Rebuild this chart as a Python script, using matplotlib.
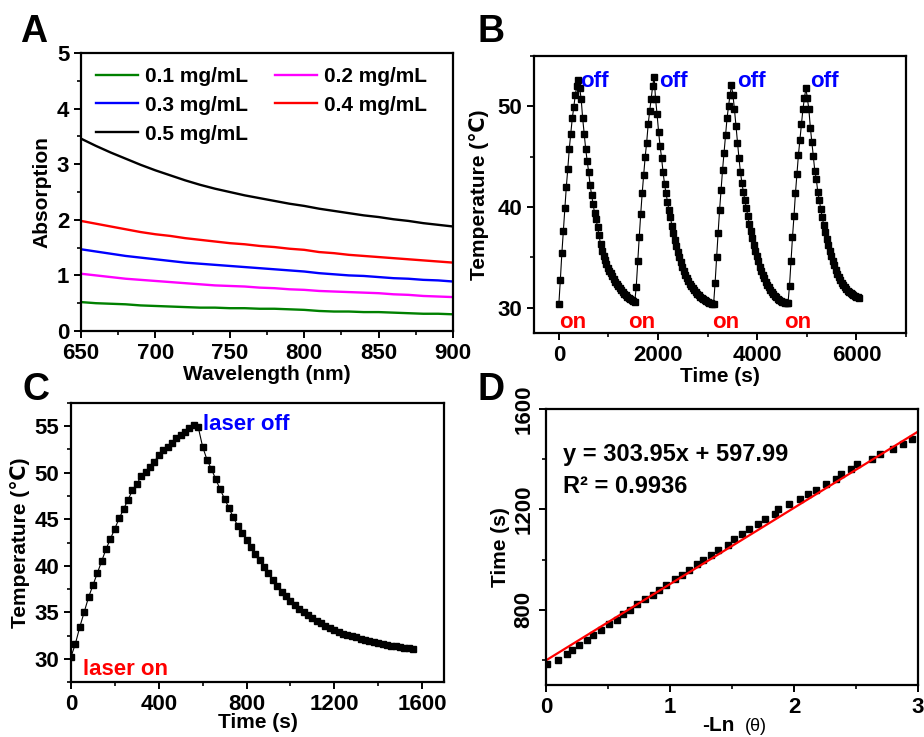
import numpy as np
import matplotlib
matplotlib.use("Agg")
import matplotlib.pyplot as plt
from matplotlib.ticker import MultipleLocator

plt.rcParams['font.family'] = ['Liberation Sans', 'DejaVu Sans']
plt.rcParams['font.weight'] = 'bold'
plt.rcParams['axes.labelweight'] = 'bold'
plt.rcParams['axes.linewidth'] = 1.6
plt.rcParams['xtick.major.width'] = 1.4
plt.rcParams['ytick.major.width'] = 1.4
plt.rcParams['xtick.minor.width'] = 1.2
plt.rcParams['ytick.minor.width'] = 1.2
plt.rcParams['xtick.major.size'] = 5
plt.rcParams['ytick.major.size'] = 5
plt.rcParams['xtick.minor.size'] = 3
plt.rcParams['ytick.minor.size'] = 3

# ---- panel A: absorption spectra (10 nm steps)
wavelength = [650, 660, 670, 680, 690, 700, 710, 720, 730, 740, 750, 760, 770,
              780, 790, 800, 810, 820, 830, 840, 850, 860, 870, 880, 890, 900]
abs_01 = [0.52, 0.50, 0.49, 0.48, 0.46, 0.45, 0.44, 0.43, 0.42, 0.42, 0.41, 0.41, 0.40,
          0.40, 0.39, 0.38, 0.36, 0.35, 0.35, 0.34, 0.34, 0.33, 0.32, 0.31, 0.31, 0.30]
abs_02 = [1.03, 1.00, 0.97, 0.94, 0.92, 0.90, 0.88, 0.86, 0.84, 0.82, 0.81, 0.80, 0.78,
          0.77, 0.75, 0.74, 0.72, 0.71, 0.70, 0.69, 0.68, 0.66, 0.65, 0.63, 0.62, 0.61]
abs_03 = [1.47, 1.43, 1.39, 1.35, 1.32, 1.29, 1.26, 1.23, 1.21, 1.19, 1.17, 1.15, 1.13,
          1.11, 1.09, 1.07, 1.04, 1.02, 1.00, 0.99, 0.97, 0.95, 0.94, 0.92, 0.91, 0.89]
abs_04 = [1.98, 1.93, 1.88, 1.83, 1.78, 1.74, 1.71, 1.67, 1.64, 1.61, 1.58, 1.56, 1.53,
          1.51, 1.48, 1.46, 1.42, 1.40, 1.37, 1.35, 1.33, 1.31, 1.29, 1.27, 1.25, 1.23]
abs_05 = [3.46, 3.33, 3.21, 3.10, 2.99, 2.89, 2.80, 2.71, 2.63, 2.56, 2.50, 2.44, 2.39,
          2.34, 2.29, 2.25, 2.20, 2.16, 2.12, 2.08, 2.05, 2.01, 1.98, 1.94, 1.91, 1.88]
conc_labels = ['0.1 mg/mL', '0.2 mg/mL', '0.3 mg/mL', '0.4 mg/mL', '0.5 mg/mL']
conc_colors = ['#008000', '#ff00ff', '#0000ff', '#ff0000', '#000000']

# ---- panel B: four on/off cycles, sampled every 30 s
b_step = 30
cycle1 = [30.4, 32.8, 35.4, 37.6, 39.9, 42.0, 43.8, 45.8, 47.3, 48.8, 49.9, 51.1, 52.0, 52.6,
          51.8, 50.7, 48.8, 47.3, 45.8, 44.6, 43.5, 42.2, 41.2, 40.3, 39.4, 38.8, 38.0, 37.2,
          36.3, 35.6, 35.1, 34.7, 34.3, 34.0, 33.7, 33.5, 33.2, 32.9, 32.6, 32.4, 32.2, 32.0,
          31.8, 31.6, 31.4, 31.3, 31.1, 31.0, 30.9, 30.8, 30.7, 30.6]
cycle2 = [32.1, 34.6, 37.0, 39.3, 41.4, 43.2, 45.0, 46.4, 48.2, 49.5, 50.7, 52.0, 52.9,
          50.7, 49.2, 47.5, 46.1, 44.9, 43.5, 42.3, 41.4, 40.5, 39.7, 39.0, 38.1, 37.4, 36.7,
          36.1, 35.5, 35.0, 34.5, 34.1, 33.7, 33.3, 33.0, 32.7, 32.4, 32.2, 32.0, 31.8, 31.6,
          31.4, 31.3, 31.1, 31.0, 30.9, 30.8, 30.7, 30.6, 30.5, 30.5, 30.4, 30.4]
cycle3 = [32.5, 35.0, 37.4, 39.7, 41.7, 43.7, 45.4, 47.2, 48.8, 50.0, 51.1, 52.1,
          51.1, 49.7, 48.1, 46.4, 44.9, 43.5, 42.4, 41.5, 40.7, 39.9, 39.1, 38.3, 37.6, 36.9,
          36.2, 35.6, 35.1, 34.6, 34.1, 33.7, 33.3, 33.0, 32.6, 32.3, 32.1, 31.8, 31.6, 31.4,
          31.2, 31.1, 30.9, 30.8, 30.7, 30.6, 30.6, 30.5, 30.5, 30.5]
cycle4 = [32.2, 34.6, 37.0, 39.1, 41.4, 43.3, 45.2, 46.7, 48.2, 49.7, 50.8, 51.8,
          50.8, 49.7, 47.9, 46.5, 45.1, 43.6, 42.8, 41.5, 40.7, 39.8, 39.0, 38.2, 37.5, 36.8,
          36.2, 35.6, 35.1, 34.6, 34.2, 33.8, 33.4, 33.1, 32.8, 32.5, 32.3, 32.1, 31.9, 31.7,
          31.6, 31.5, 31.4, 31.3, 31.2, 31.1, 31.1, 31.0]
off_times = [423, 2018, 3587, 5057]
on_times = [0, 1403, 3091, 4535]

# ---- panel C: single heating/cooling curve, sampled every 20 s
c_step = 20
c_temp = [30.2, 31.6, 33.4, 35.0, 36.6, 37.9, 39.2, 40.5, 41.8, 42.9, 44.0, 45.1, 46.1, 47.1,
          48.1, 48.8, 49.6, 50.1, 50.6, 51.2, 51.9, 52.4, 52.8, 53.2, 53.7, 54.1, 54.4, 54.8,
          55.1, 54.9,
          52.8, 51.4, 50.4, 49.3, 48.2, 47.2, 46.2, 45.2, 44.3, 43.5, 42.8, 42.0, 41.3, 40.6,
          39.9, 39.2, 38.5, 37.8, 37.2, 36.7, 36.2, 35.8, 35.4, 35.0, 34.7, 34.4, 34.1, 33.8,
          33.5, 33.3, 33.1, 32.9, 32.7, 32.6, 32.4, 32.3, 32.1, 32.0, 31.9, 31.8, 31.7, 31.6,
          31.5, 31.4, 31.35, 31.3, 31.2, 31.15, 31.1]

# ---- panel D: cooling time vs -ln(theta)
d_x = [0.01, 0.10, 0.17, 0.21, 0.27, 0.33, 0.38, 0.44, 0.51, 0.57, 0.62, 0.68, 0.73, 0.80,
       0.86, 0.91, 0.97, 1.04, 1.10, 1.15, 1.22, 1.27, 1.33, 1.39, 1.47, 1.52, 1.58, 1.64,
       1.71, 1.77, 1.85, 1.87, 1.96, 2.05, 2.11, 2.18, 2.26, 2.34, 2.38, 2.46, 2.51, 2.63,
       2.69, 2.80, 2.88, 2.95]
d_y = [584, 601, 623, 640, 660, 680, 698, 718, 742, 759, 782, 799, 821, 841,
       858, 880, 900, 923, 940, 960, 982, 999, 1019, 1039, 1059, 1081, 1101, 1122,
       1141, 1162, 1180, 1201, 1221, 1242, 1261, 1279, 1300, 1320, 1341, 1360, 1381, 1399,
       1422, 1442, 1461, 1481]
fit_slope = 303.95
fit_intercept = 597.99
fit_r2 = 0.9936

fig = plt.figure(figsize=(9.24, 7.37), dpi=100)
axA = fig.add_axes([0.0877, 0.5509, 0.4026, 0.3771])
axB = fig.add_axes([0.5780, 0.5482, 0.4026, 0.3758])
axC = fig.add_axes([0.0768, 0.0746, 0.4037, 0.3786])
axD = fig.add_axes([0.5909, 0.0706, 0.4026, 0.3745])

for ax in (axA, axB, axC, axD):
    ax.tick_params(which='both', direction='out', top=False, right=False, labelsize=16)

# A
series = [abs_01, abs_02, abs_03, abs_04, abs_05]
lines = []
for vals, lab, col in zip(series, conc_labels, conc_colors):
    ln, = axA.plot(wavelength, vals, color=col, lw=1.7, label=lab)
    lines.append(ln)
order = [0, 2, 4, 1, 3]
axA.legend([lines[i] for i in order], [conc_labels[i] for i in order], ncol=2,
           loc='upper left', bbox_to_anchor=(0.04, 0.95), frameon=False,
           fontsize=15, handlelength=2.0, handletextpad=0.35, columnspacing=1.3,
           labelspacing=0.47, borderpad=0, borderaxespad=0)
axA.set_xlim(650, 900)
axA.set_ylim(0, 5)
axA.xaxis.set_major_locator(MultipleLocator(50))
axA.xaxis.set_minor_locator(MultipleLocator(25))
axA.yaxis.set_major_locator(MultipleLocator(1))
axA.yaxis.set_minor_locator(MultipleLocator(0.5))
axA.set_xlabel('Wavelength (nm)', fontsize=15, labelpad=1)
axA.set_ylabel('Absorption', fontsize=15, labelpad=4)

# B
b_temp = np.array(cycle1 + cycle2 + cycle3 + cycle4)
b_time = np.arange(len(b_temp)) * b_step
axB.plot(b_time, b_temp, color='black', lw=0.8, marker='s', ms=4.5)
for t in off_times:
    axB.text(t, 51.9, 'off', color='#0000ff', fontsize=16, fontweight='bold', va='baseline')
for t in on_times:
    axB.text(t, 27.95, 'on', color='#ff0000', fontsize=16, fontweight='bold', va='baseline')
axB.set_xlim(-500, 7000)
axB.set_ylim(27.5, 55)
axB.xaxis.set_major_locator(MultipleLocator(2000))
axB.xaxis.set_minor_locator(MultipleLocator(1000))
axB.yaxis.set_major_locator(MultipleLocator(10))
axB.yaxis.set_minor_locator(MultipleLocator(5))
axB.set_xlabel('Time (s)', fontsize=15, labelpad=1)
axB.set_ylabel('Temperature (℃)', fontsize=15, labelpad=6)

# C
c_time = np.arange(len(c_temp)) * c_step
axC.plot(c_time, c_temp, color='black', lw=0.8, marker='s', ms=4.5)
axC.text(601, 54.6, 'laser off', color='#0000ff', fontsize=16, fontweight='bold', va='baseline')
axC.text(53, 28.3, 'laser on', color='#ff0000', fontsize=16, fontweight='bold', va='baseline')
axC.set_xlim(0, 1700)
axC.set_ylim(27.5, 57.5)
axC.xaxis.set_major_locator(MultipleLocator(400))
axC.xaxis.set_minor_locator(MultipleLocator(200))
axC.yaxis.set_major_locator(MultipleLocator(5))
axC.yaxis.set_minor_locator(MultipleLocator(2.5))
axC.set_xlabel('Time (s)', fontsize=15, labelpad=-1)
axC.set_ylabel('Temperature (℃)', fontsize=15, labelpad=3)

# D
axD.plot(d_x, d_y, linestyle='none', marker='s', ms=4.3, color='black')
fit_x = np.array([0, 3])
axD.plot(fit_x, fit_slope * fit_x + fit_intercept, color='#ff0000', lw=1.6)
axD.text(0.14, 1391, f'y = {fit_slope}x + {fit_intercept}', fontsize=17, fontweight='bold',
         va='baseline')
axD.text(0.14, 1266, f'R² = {fit_r2}', fontsize=17, fontweight='bold', va='baseline')
axD.set_xlim(0, 3)
axD.set_ylim(500, 1600)
axD.xaxis.set_major_locator(MultipleLocator(1))
axD.xaxis.set_minor_locator(MultipleLocator(0.5))
axD.yaxis.set_major_locator(MultipleLocator(400))
axD.yaxis.set_minor_locator(MultipleLocator(200))
axD.set_yticks([800, 1200, 1600])
for lab in axD.get_yticklabels():
    lab.set_rotation(90)
    lab.set_va('center')
axD.set_ylabel('Time (s)', fontsize=15, labelpad=2)
axD.text(0.42, -0.165, '-Ln', transform=axD.transAxes, fontsize=15, fontweight='bold',
         va='baseline')
axD.text(0.535, -0.165, '(θ)', transform=axD.transAxes, fontsize=13, fontweight='normal',
         va='baseline')

# panel letters
for letter, x, y in [('A', 20, 42), ('B', 478, 42), ('C', 22, 400), ('D', 478, 400)]:
    fig.text(x / 924, 1 - y / 737, letter, fontsize=27, fontweight='bold', va='baseline')

fig.savefig('out.png', dpi=100)
